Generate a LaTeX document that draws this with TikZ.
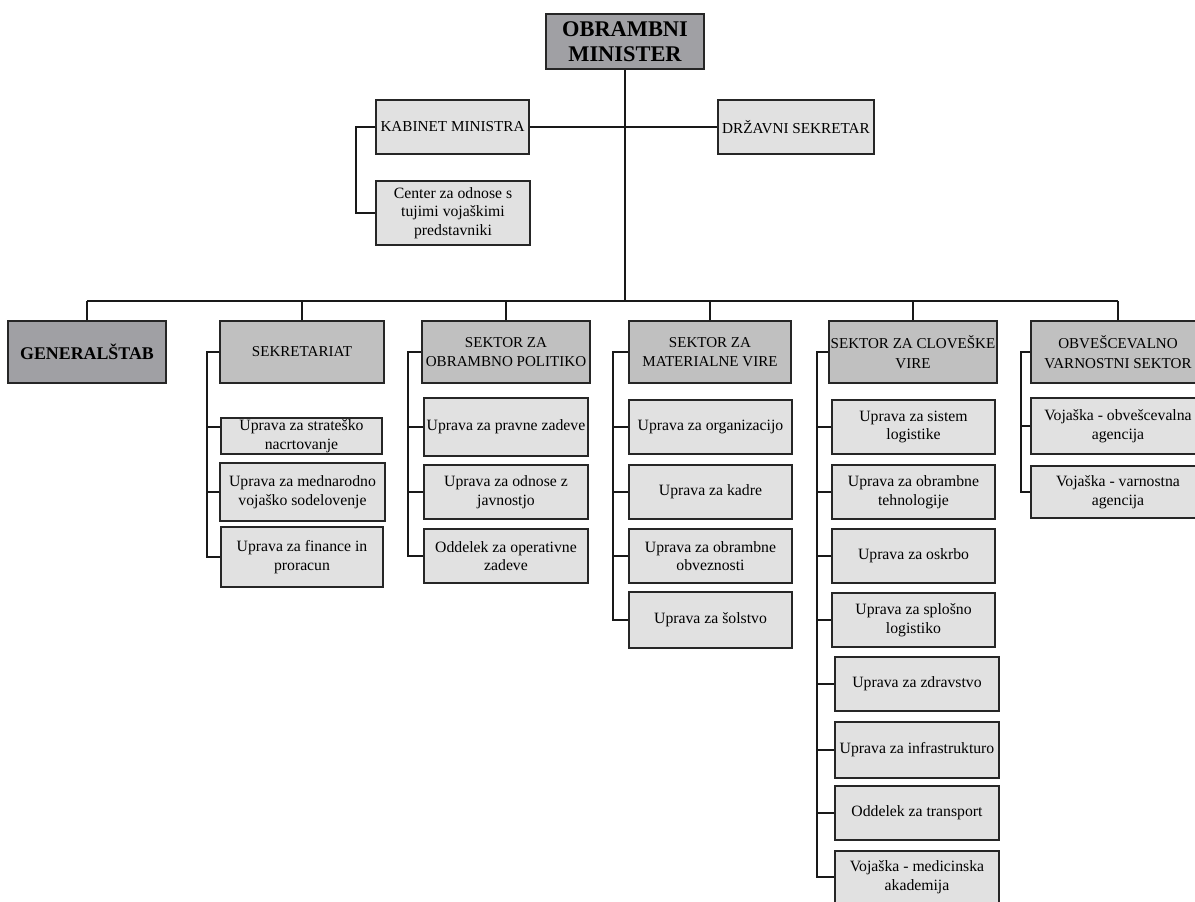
\documentclass[tikz,border=0pt]{standalone}
\usepackage{fontspec}
\setmainfont{Liberation Serif}
\definecolor{darkfill}{RGB}{160,160,164}
\definecolor{midfill}{RGB}{192,192,192}
\definecolor{lightfill}{RGB}{225,225,225}
\tikzset{
  base/.style={draw=black!85, line width=1.4pt, rectangle, inner sep=1pt, align=center,
               font=\fontsize{11.8}{14}\selectfont},
  top/.style={base, fill=darkfill, font=\fontsize{16.8}{19}\selectfont\bfseries},
  chief/.style={base, fill=darkfill, font=\fontsize{13.4}{15}\selectfont\bfseries},
  head/.style={base, fill=midfill, font=\fontsize{11.3}{14.5}\selectfont},
  unit/.style={base, fill=lightfill},
  capsunit/.style={unit, font=\fontsize{11.4}{14}\selectfont},
  link/.style={draw=black!90, line width=1.4pt}
}
% box given by its corners (x1,y1)-(x2,y2) in pixel-like units
\newcommand\orgbox[7]{%
  \node[#6, minimum width={(#4-#2)*0.75pt}, minimum height={(#5-#3)*0.75pt}]
    (#1) at ({(#2+#4)/2},{(#3+#5)/2}) {#7};}
\begin{document}
\begin{tikzpicture}[x=0.75pt,y=-0.75pt]
\clip (0,0) rectangle (1195,901);
\fill[white] (0,0) rectangle (1195,901);

% ---- top level
\orgbox{min}{546}{14}{704}{69}{top}{OBRAMBNI\\MINISTER}
\orgbox{kab}{376}{100}{529}{154}{capsunit}{KABINET MINISTRA}
\orgbox{drz}{718}{100}{874}{154}{capsunit}{DRŽAVNI SEKRETAR}
\orgbox{cen}{376}{181}{530}{245}{unit}{Center za odnose s\\tujimi vojaškimi\\predstavniki}

% ---- sector headers
\orgbox{gen}{8}{321}{166}{383}{chief}{GENERALŠTAB}
\orgbox{sek}{220}{321}{384}{383}{head}{SEKRETARIAT}
\orgbox{pol}{422}{321}{590}{383}{head}{SEKTOR ZA\\OBRAMBNO POLITIKO}
\orgbox{mat}{629}{321}{791}{383}{head}{SEKTOR ZA\\MATERIALNE VIRE}
\orgbox{clo}{829}{321}{997}{383}{head}{SEKTOR ZA CLOVEŠKE\\VIRE}
\orgbox{obv}{1031}{321}{1205}{383}{head}{OBVEŠCEVALNO\\VARNOSTNI SEKTOR}

% ---- units
\orgbox{s1}{221}{418}{382}{454}{unit}{Uprava za strateško\\nacrtovanje}
\orgbox{s2}{220}{463}{385}{521}{unit}{Uprava za mednarodno\\vojaško sodelovenje}
\orgbox{s3}{221}{527}{383}{587}{unit}{Uprava za finance in\\proracun}

\orgbox{p1}{424}{398}{588}{456}{unit}{Uprava za pravne zadeve}
\orgbox{p2}{424}{465}{588}{519}{unit}{Uprava za odnose z\\javnostjo}
\orgbox{p3}{424}{529}{588}{583}{unit}{Oddelek za operativne\\zadeve}

\orgbox{m1}{629}{400}{792}{454}{unit}{Uprava za organizacijo}
\orgbox{m2}{629}{465}{792}{519}{unit}{Uprava za kadre}
\orgbox{m3}{629}{529}{792}{583}{unit}{Uprava za obrambne\\obveznosti}
\orgbox{m4}{629}{592}{792}{648}{unit}{Uprava za šolstvo}

\orgbox{c1}{832}{400}{995}{454}{unit}{Uprava za sistem\\logistike}
\orgbox{c2}{832}{465}{995}{519}{unit}{Uprava za obrambne\\tehnologije}
\orgbox{c3}{832}{529}{995}{583}{unit}{Uprava za oskrbo}
\orgbox{c4}{832}{593}{995}{647}{unit}{Uprava za splošno\\logistiko}
\orgbox{c5}{835}{657}{999}{711}{unit}{Uprava za zdravstvo}
\orgbox{c6}{835}{722}{999}{778}{unit}{Uprava za infrastrukturo}
\orgbox{c7}{835}{786}{999}{840}{unit}{Oddelek za transport}
\orgbox{c8}{835}{851}{999}{903}{unit}{Vojaška - medicinska\\akademija}

\orgbox{o1}{1031}{398}{1205}{454}{unit}{Vojaška - obvešcevalna\\agencija}
\orgbox{o2}{1031}{466}{1205}{518}{unit}{Vojaška - varnostna\\agencija}

% ---- connectors
\coordinate (busL) at (87,301);
\coordinate (busR) at (1118,301);
\draw[link] (min.south) -- (min.south |- busL);
\draw[link] (kab.east) -- (drz.west);
\draw[link] (busL) -- (busR);
\foreach \h in {gen,sek,pol,mat,clo,obv}
  \draw[link] (\h.north) -- (\h.north |- busL);

% cabinet bracket
\coordinate (kabx) at (356,0);
\draw[link] (kab.west) -| (kabx |- cen.west) -- (cen.west);

% sector brackets
\coordinate (sekx) at (207,0);
\coordinate (s1c) at ([yshift=6.75pt]s1.west);
\draw[link] (sek.west) -| (sekx |- s3.west) -- (s3.west);
\draw[link] (s1c) -- (sekx |- s1c);
\draw[link] (s2.west) -- (sekx |- s2.west);

\coordinate (polx) at (408,0);
\draw[link] (pol.west) -| (polx |- p3.west) -- (p3.west);
\foreach \n in {p1,p2}
  \draw[link] (\n.west) -- (polx |- \n.west);

\coordinate (matx) at (613,0);
\draw[link] (mat.west) -| (matx |- m4.west) -- (m4.west);
\foreach \n in {m1,m2,m3}
  \draw[link] (\n.west) -- (matx |- \n.west);

\coordinate (clox) at (817,0);
\draw[link] (clo.west) -| (clox |- c8.west) -- (c8.west);
\foreach \n in {c1,c2,c3,c4,c5,c6,c7}
  \draw[link] (\n.west) -- (clox |- \n.west);

\coordinate (obvx) at (1021,0);
\draw[link] (obv.west) -| (obvx |- o2.west) -- (o2.west);
\draw[link] (o1.west) -- (obvx |- o1.west);
\end{tikzpicture}
\end{document}
